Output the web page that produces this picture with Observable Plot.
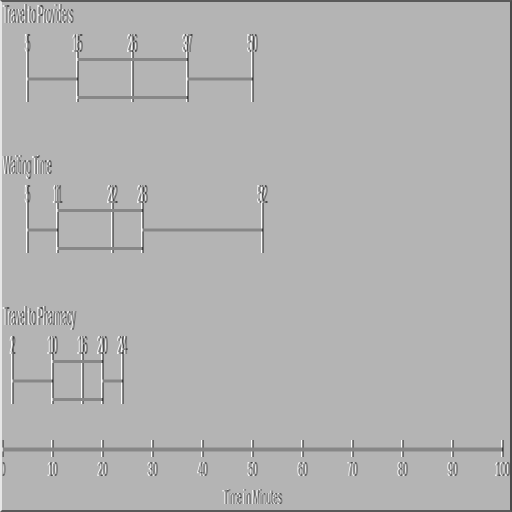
<!DOCTYPE html>
<html>
<head>
<meta charset="utf-8">
<script src="https://cdn.jsdelivr.net/npm/d3@7"></script>
<script src="https://cdn.jsdelivr.net/npm/@observablehq/plot@0.6"></script>
<style>
  html, body { margin: 0; padding: 0; background: #b4b4b4; }
  #wrap { position: relative; width: 512px; height: 512px; overflow: hidden; }
  #chart { filter: url(#emb); width: 512px; height: 512px; }
  #border { position: absolute; left: 0; top: 0; width: 512px; height: 512px; box-sizing: border-box;
            border-top: 2px solid #5a5a5a; border-bottom: 2px solid #5a5a5a;
            border-right: 2px solid #4a4a4a; border-left: 2px solid #e6e6e6; pointer-events: none; }
</style>
</head>
<body>
<svg width="0" height="0" style="position:absolute">
  <filter id="emb" x="0" y="0" width="1" height="1" color-interpolation-filters="sRGB">
    <feConvolveMatrix order="3" kernelMatrix="0 0 0 -0.3 0.176 0.3 0 0 0" divisor="1" bias="0.53" preserveAlpha="true" edgeMode="duplicate"/>
  </filter>
</svg>
<div id="wrap"><div id="chart"></div><div id="border"></div></div>
<script>
const categories = ["Travel to Providers", "Waiting Time", "Travel to Pharmacy"];
const mins    = [5, 5, 2];
const q1s     = [15, 11, 10];
const medians = [26, 22, 16];
const q3s     = [37, 28, 20];
const maxs    = [50, 52, 24];
const xTicks  = [0, 10, 20, 30, 40, 50, 60, 70, 80, 90, 100];
const xLabel  = "Time in Minutes";

const boxes = categories.map((c, i) => ({cat: c, min: mins[i], q1: q1s[i], med: medians[i], q3: q3s[i], max: maxs[i]}));
const stats = boxes.flatMap(b => [b.min, b.q1, b.med, b.q3, b.max].map(v => ({cat: b.cat, v})));

const FS = 26;
const BW = 41;   // band width in px (box height)
const plot = Plot.plot({
  width: 512,
  height: 512,
  marginLeft: 2,
  marginRight: 10,
  marginTop: 0,
  marginBottom: 72,
  style: {background: "white", fontFamily: "Liberation Sans, Arial, sans-serif", fontSize: FS + "px", color: "black"},
  x: {domain: [0, 100], axis: null},
  y: {type: "band", domain: categories, range: [57, 402], paddingInner: 0.73, paddingOuter: 0, axis: null},
  marks: [
    Plot.ruleY(boxes, {y: "cat", x1: "min", x2: "q1", stroke: "black", strokeWidth: 3}),
    Plot.ruleY(boxes, {y: "cat", x1: "q3", x2: "max", stroke: "black", strokeWidth: 3}),
    Plot.barX(boxes, {y: "cat", x1: "q1", x2: "q3", fill: "black", insetBottom: BW - 3}),
    Plot.barX(boxes, {y: "cat", x1: "q1", x2: "q3", fill: "black", insetTop: BW - 3}),
    Plot.tickX(stats, {x: "v", y: "cat", stroke: "black", strokeWidth: 1, insetTop: -24, insetBottom: -3}),
    Plot.text(stats, {x: "v", y: "cat", text: d => String(d.v), dy: -35, fontSize: FS, fill: "black"}),
    Plot.text(categories, {y: d => d, x: () => 0, text: d => d, textAnchor: "start", dx: 1, dy: -64, fontSize: FS, fill: "black"}),
    Plot.ruleY([categories[2]], {y: d => d, stroke: "black", strokeWidth: 4, dy: 68.5}),
    Plot.axisX({ticks: xTicks, tickSize: 17, tickPadding: 4, fontSize: 20, label: null, stroke: "black", strokeWidth: 1}),
    Plot.text([xLabel], {frameAnchor: "bottom", text: d => d, dy: 63, fontSize: 20, fill: "black"})
  ]
});
document.getElementById("chart").appendChild(plot);

// Condense all text horizontally (the reference glyphs are tall and narrow)
const WIDTH_PER_PX = 0.32 * 26;
d3.select(plot).selectAll("text").each(function () {
  const bb = this.getBBox();
  const cs = getComputedStyle(this);
  const fs = parseFloat(cs.fontSize) || FS;
  const sx = WIDTH_PER_PX / fs;
  const anchor = cs.textAnchor;
  let cx = bb.x + bb.width / 2;
  if (anchor === "start") cx = bb.x;
  else if (anchor === "end") cx = bb.x + bb.width;
  const t = this.getAttribute("transform") || "";
  this.setAttribute("transform", `${t} translate(${cx},0) scale(${sx},1) translate(${-cx},0)`);
});
</script>
</body>
</html>
